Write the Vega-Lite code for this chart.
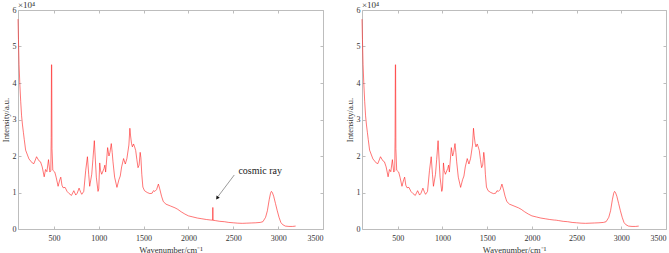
{
  "$schema": "https://vega.github.io/schema/vega-lite/v6.json",
  "padding": {"left": 0, "top": 0, "right": 0, "bottom": 0},
  "spacing": 20,
  "config": {
    "font": "Liberation Serif",
    "view": {"stroke": "#bdbdbd", "strokeWidth": 1},
    "text": {"font": "Liberation Serif"},
    "axis": {
      "labelFont": "Liberation Serif", "labelFontSize": 8, "labelColor": "#333333",
      "titleFont": "Liberation Serif", "titleFontSize": 8.5, "titleFontWeight": "normal", "titleColor": "#333333",
      "tickColor": "#bdbdbd", "tickSize": -3, "grid": false, "domain": false
    }
  },
  "datasets": {
    "spec": [
      {"wn":100,"raw":57500,"corrected":57500},{"wn":105,"raw":52000,"corrected":52000},{"wn":112,"raw":45000,"corrected":45000},
      {"wn":120,"raw":40000,"corrected":40000},{"wn":130,"raw":35000,"corrected":35000},{"wn":140,"raw":31000,"corrected":31000},
      {"wn":150,"raw":28500,"corrected":28500},{"wn":160,"raw":26500,"corrected":26500},{"wn":170,"raw":24500,"corrected":24500},
      {"wn":185,"raw":21600,"corrected":21600},{"wn":222,"raw":19200,"corrected":19200},{"wn":259,"raw":18100,"corrected":18100},
      {"wn":277,"raw":17900,"corrected":17900},{"wn":307,"raw":19800,"corrected":19800},{"wn":333,"raw":18700,"corrected":18700},
      {"wn":351,"raw":18400,"corrected":18400},{"wn":370,"raw":17000,"corrected":17000},{"wn":392,"raw":14300,"corrected":14300},
      {"wn":407,"raw":16300,"corrected":16300},{"wn":422,"raw":15700,"corrected":15700},{"wn":440,"raw":19000,"corrected":19000},
      {"wn":455,"raw":15600,"corrected":15600},{"wn":466,"raw":16000,"corrected":16000},{"wn":470,"raw":25000,"corrected":25000},
      {"wn":473,"raw":45000,"corrected":45000},{"wn":476,"raw":45000,"corrected":45000},{"wn":479,"raw":22000,"corrected":22000},
      {"wn":488,"raw":16100,"corrected":16100},{"wn":510,"raw":15600,"corrected":15600},{"wn":525,"raw":14200,"corrected":14200},
      {"wn":547,"raw":11700,"corrected":11700},{"wn":566,"raw":13500,"corrected":13500},{"wn":577,"raw":14200,"corrected":14200},
      {"wn":590,"raw":12000,"corrected":12000},{"wn":603,"raw":11300,"corrected":11300},{"wn":625,"raw":11400,"corrected":11400},
      {"wn":647,"raw":10300,"corrected":10300},{"wn":670,"raw":9700,"corrected":9700},{"wn":696,"raw":9200,"corrected":9200},
      {"wn":722,"raw":10500,"corrected":10500},{"wn":744,"raw":9300,"corrected":9300},{"wn":760,"raw":9800,"corrected":9800},
      {"wn":781,"raw":11200,"corrected":11200},{"wn":800,"raw":10000,"corrected":10000},{"wn":811,"raw":9500,"corrected":9500},
      {"wn":833,"raw":10300,"corrected":10300},{"wn":855,"raw":16100,"corrected":16100},{"wn":874,"raw":19800,"corrected":19800},
      {"wn":888,"raw":15000,"corrected":15000},{"wn":899,"raw":11700,"corrected":11700},{"wn":922,"raw":15000,"corrected":15000},
      {"wn":935,"raw":19000,"corrected":19000},{"wn":951,"raw":24200,"corrected":24200},{"wn":960,"raw":20000,"corrected":20000},
      {"wn":973,"raw":14200,"corrected":14200},{"wn":992,"raw":10300,"corrected":10300},{"wn":1000,"raw":11000,"corrected":11000},
      {"wn":1011,"raw":18100,"corrected":18100},{"wn":1020,"raw":16000,"corrected":16000},{"wn":1033,"raw":15000,"corrected":15000},
      {"wn":1059,"raw":16600,"corrected":16600},{"wn":1068,"raw":17500,"corrected":17500},{"wn":1077,"raw":15600,"corrected":15600},
      {"wn":1099,"raw":22300,"corrected":22300},{"wn":1114,"raw":20000,"corrected":20000},{"wn":1125,"raw":21000,"corrected":21000},
      {"wn":1140,"raw":23400,"corrected":23400},{"wn":1150,"raw":21000,"corrected":21000},{"wn":1159,"raw":18400,"corrected":18400},
      {"wn":1177,"raw":14200,"corrected":14200},{"wn":1203,"raw":11400,"corrected":11400},{"wn":1225,"raw":13500,"corrected":13500},
      {"wn":1240,"raw":14500,"corrected":14500},{"wn":1255,"raw":17000,"corrected":17000},{"wn":1277,"raw":19300,"corrected":19300},
      {"wn":1296,"raw":17800,"corrected":17800},{"wn":1314,"raw":19300,"corrected":19300},{"wn":1336,"raw":23000,"corrected":23000},
      {"wn":1347,"raw":27600,"corrected":27600},{"wn":1355,"raw":25500,"corrected":25500},{"wn":1365,"raw":23500,"corrected":23500},
      {"wn":1375,"raw":22500,"corrected":22500},{"wn":1388,"raw":23300,"corrected":23300},{"wn":1400,"raw":22500,"corrected":22500},
      {"wn":1412,"raw":21500,"corrected":21500},{"wn":1425,"raw":19000,"corrected":19000},{"wn":1438,"raw":16800,"corrected":16800},
      {"wn":1450,"raw":17500,"corrected":17500},{"wn":1462,"raw":21000,"corrected":21000},{"wn":1470,"raw":19500,"corrected":19500},
      {"wn":1480,"raw":15000,"corrected":15000},{"wn":1492,"raw":11500,"corrected":11500},{"wn":1510,"raw":10500,"corrected":10500},
      {"wn":1540,"raw":10000,"corrected":10000},{"wn":1570,"raw":9700,"corrected":9700},{"wn":1595,"raw":9800,"corrected":9800},
      {"wn":1610,"raw":10500,"corrected":10500},{"wn":1625,"raw":10300,"corrected":10300},{"wn":1645,"raw":10800,"corrected":10800},
      {"wn":1665,"raw":12300,"corrected":12300},{"wn":1680,"raw":11000,"corrected":11000},{"wn":1700,"raw":9000,"corrected":9000},
      {"wn":1720,"raw":7500,"corrected":7500},{"wn":1750,"raw":6800,"corrected":6800},{"wn":1800,"raw":6300,"corrected":6300},
      {"wn":1850,"raw":5800,"corrected":5800},{"wn":1880,"raw":5400,"corrected":5400},{"wn":1920,"raw":4700,"corrected":4700},
      {"wn":1960,"raw":4100,"corrected":4100},{"wn":2000,"raw":3600,"corrected":3600},{"wn":2050,"raw":3300,"corrected":3300},
      {"wn":2100,"raw":3000,"corrected":3000},{"wn":2150,"raw":2800,"corrected":2800},{"wn":2200,"raw":2600,"corrected":2600},
      {"wn":2250,"raw":2450,"corrected":2450},{"wn":2271,"raw":2420,"corrected":2420},{"wn":2272,"raw":5900,"corrected":2415},
      {"wn":2273,"raw":2410,"corrected":2410},{"wn":2300,"raw":2300,"corrected":2300},{"wn":2350,"raw":2100,"corrected":2100},
      {"wn":2400,"raw":2000,"corrected":2000},{"wn":2450,"raw":1800,"corrected":1800},{"wn":2500,"raw":1700,"corrected":1700},
      {"wn":2550,"raw":1600,"corrected":1600},{"wn":2600,"raw":1550,"corrected":1550},{"wn":2650,"raw":1600,"corrected":1600},
      {"wn":2700,"raw":1650,"corrected":1650},{"wn":2750,"raw":1700,"corrected":1700},{"wn":2800,"raw":1800,"corrected":1800},
      {"wn":2830,"raw":2000,"corrected":2000},{"wn":2860,"raw":3200,"corrected":3200},{"wn":2880,"raw":5000,"corrected":5000},
      {"wn":2900,"raw":8000,"corrected":8000},{"wn":2915,"raw":9800,"corrected":9800},{"wn":2925,"raw":10300,"corrected":10300},
      {"wn":2935,"raw":10000,"corrected":10000},{"wn":2950,"raw":9000,"corrected":9000},{"wn":2970,"raw":7000,"corrected":7000},
      {"wn":2990,"raw":5000,"corrected":5000},{"wn":3010,"raw":3200,"corrected":3200},{"wn":3030,"raw":1800,"corrected":1800},
      {"wn":3050,"raw":1200,"corrected":1200},{"wn":3080,"raw":800,"corrected":800},{"wn":3120,"raw":700,"corrected":700},
      {"wn":3160,"raw":700,"corrected":700},{"wn":3195,"raw":800,"corrected":800}
    ]
  },
  "hconcat": [
    {
      "width": 305, "height": 219,
      "layer": [
        {
          "data": {"name": "spec"},
          "mark": {"type": "line", "color": "#ff1a1a", "strokeWidth": 0.6},
          "encoding": {
            "x": {"field": "wn", "type": "quantitative", "scale": {"domain": [100, 3500], "nice": false, "zero": false},
                  "axis": {"orient": "bottom", "values": [500,1000,1500,2000,2500,3000,3500], "format": "d", "title": "Wavenumber/cm⁻¹", "labelPadding": 8, "titlePadding": 3}},
            "y": {"field": "raw", "type": "quantitative", "scale": {"domain": [0, 60000], "nice": false},
                  "axis": {"orient": "left", "values": [0,10000,20000,30000,40000,50000,60000], "labelExpr": "datum.value/10000", "title": "Intensity/a.u.", "labelPadding": 5, "titlePadding": 2}}
          }
        },
        {
          "data": {"name": "spec"},
          "mark": {"type": "line", "strokeOpacity": 0},
          "encoding": {
            "x": {"field": "wn", "type": "quantitative", "axis": {"orient": "top", "values": [500,1000,1500,2000,2500,3000,3500], "labels": false, "title": null}},
            "y": {"field": "raw", "type": "quantitative", "axis": {"orient": "right", "values": [0,10000,20000,30000,40000,50000,60000], "labels": false, "title": null}}
          }
        },
        {
          "data": {"values": [{"x": 100, "y": 60000, "label": "×10⁴"}]},
          "mark": {"type": "text", "fontSize": 9, "color": "#333333", "font": "Liberation Serif", "align": "left", "dy": -5},
          "encoding": {
            "x": {"field": "x", "type": "quantitative", "axis": null},
            "y": {"field": "y", "type": "quantitative", "axis": null},
            "text": {"field": "label"}
          }
        },
        {
          "data": {"values": [{"x": 2800, "y": 15900, "label": "cosmic ray"}]},
          "mark": {"type": "text", "fontSize": 10, "color": "#222222", "font": "Liberation Serif"},
          "encoding": {
            "x": {"field": "x", "type": "quantitative", "axis": null},
            "y": {"field": "y", "type": "quantitative", "axis": null},
            "text": {"field": "label"}
          }
        },
        {
          "data": {"values": [{"x": 2511, "y": 14800, "x2": 2330, "y2": 8900}]},
          "mark": {"type": "rule", "color": "#555555", "strokeWidth": 0.6},
          "encoding": {
            "x": {"field": "x", "type": "quantitative", "axis": null},
            "y": {"field": "y", "type": "quantitative", "axis": null},
            "x2": {"field": "x2"},
            "y2": {"field": "y2"}
          }
        },
        {
          "data": {"values": [{"x": 2320, "y": 8500}]},
          "mark": {"type": "point", "shape": "triangle-up", "filled": true, "color": "#111111", "size": 16, "angle": 216, "opacity": 1},
          "encoding": {
            "x": {"field": "x", "type": "quantitative", "axis": null},
            "y": {"field": "y", "type": "quantitative", "axis": null}
          }
        }
      ],
      "resolve": {"axis": {"x": "independent", "y": "independent"}}
    },
    {
      "width": 304, "height": 219,
      "layer": [
        {
          "data": {"name": "spec"},
          "mark": {"type": "line", "color": "#ff1a1a", "strokeWidth": 0.6},
          "encoding": {
            "x": {"field": "wn", "type": "quantitative", "scale": {"domain": [100, 3500], "nice": false, "zero": false},
                  "axis": {"orient": "bottom", "values": [500,1000,1500,2000,2500,3000,3500], "format": "d", "title": "Wavenumber/cm⁻¹", "labelPadding": 8, "titlePadding": 3}},
            "y": {"field": "corrected", "type": "quantitative", "scale": {"domain": [0, 60000], "nice": false},
                  "axis": {"orient": "left", "values": [0,10000,20000,30000,40000,50000,60000], "labelExpr": "datum.value/10000", "title": "Intensity/a.u.", "labelPadding": 5, "titlePadding": 2}}
          }
        },
        {
          "data": {"name": "spec"},
          "mark": {"type": "line", "strokeOpacity": 0},
          "encoding": {
            "x": {"field": "wn", "type": "quantitative", "axis": {"orient": "top", "values": [500,1000,1500,2000,2500,3000,3500], "labels": false, "title": null}},
            "y": {"field": "corrected", "type": "quantitative", "axis": {"orient": "right", "values": [0,10000,20000,30000,40000,50000,60000], "labels": false, "title": null}}
          }
        },
        {
          "data": {"values": [{"x": 100, "y": 60000, "label": "×10⁴"}]},
          "mark": {"type": "text", "fontSize": 9, "color": "#333333", "font": "Liberation Serif", "align": "left", "dy": -5},
          "encoding": {
            "x": {"field": "x", "type": "quantitative", "axis": null},
            "y": {"field": "y", "type": "quantitative", "axis": null},
            "text": {"field": "label"}
          }
        }
      ],
      "resolve": {"axis": {"x": "independent", "y": "independent"}}
    }
  ]
}
